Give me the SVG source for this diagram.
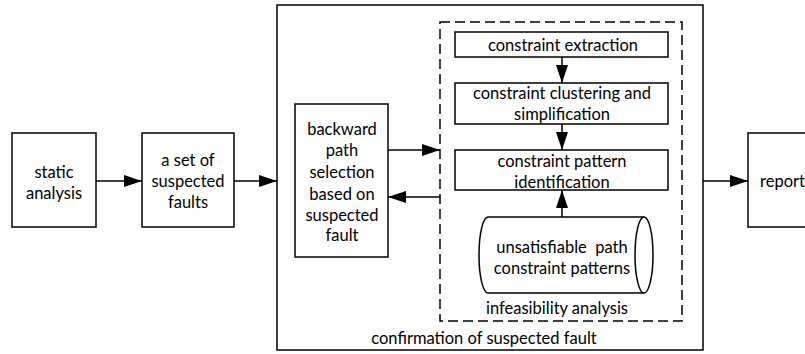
<svg xmlns="http://www.w3.org/2000/svg" width="805" height="354" viewBox="0 0 805 354">
<defs>
<style>
.box{fill:#fff;stroke:#000;stroke-width:1.5}
.dash{fill:none;stroke:#000;stroke-width:1.5;stroke-dasharray:10 5}
.t{font-family:Lato,"Liberation Sans",sans-serif;font-size:16.5px;fill:#000;text-anchor:middle}
.ln{stroke:#000;stroke-width:1.5;fill:none;marker-end:url(#ah)}
</style>
<marker id="ah" markerUnits="userSpaceOnUse" markerWidth="19" markerHeight="12" refX="18" refY="6" orient="auto">
<path d="M0,0 L18,6 L0,12 z" fill="#000"/>
</marker>
</defs>
<rect width="805" height="354" fill="#fff"/>
<g id="confirmation">
<rect class="box" x="277" y="5" width="426" height="345"/>
<text class="t" x="484" y="344">confirmation of suspected fault</text>
</g>
<g id="infeasibility">
<rect class="dash" x="440" y="22" width="242" height="299"/>
<text class="t" x="557" y="314">infeasibility analysis</text>
</g>
<g id="static">
<rect class="box" x="12" y="133" width="84" height="94"/>
<text class="t" x="54" y="178">static</text>
<text class="t" x="54" y="199">analysis</text>
</g>
<g id="suspected">
<rect class="box" x="142" y="133" width="92" height="94"/>
<text class="t" x="188" y="166">a set of</text>
<text class="t" x="188" y="187">suspected</text>
<text class="t" x="188" y="208">faults</text>
</g>
<g id="backward">
<rect class="box" x="295" y="104" width="93" height="153"/>
<text class="t" x="342" y="135">backward</text>
<text class="t" x="342" y="156">path</text>
<text class="t" x="342" y="178">selection</text>
<text class="t" x="342" y="200">based on</text>
<text class="t" x="342" y="221">suspected</text>
<text class="t" x="342" y="241">fault</text>
</g>
<g id="extraction">
<rect class="box" x="455" y="32" width="213" height="25"/>
<text class="t" x="563" y="51">constraint extraction</text>
</g>
<g id="clustering">
<rect class="box" x="455" y="83" width="213" height="41"/>
<text class="t" x="562" y="99">constraint clustering and</text>
<text class="t" x="562" y="120">simplification</text>
</g>
<g id="pattern">
<rect class="box" x="455" y="150" width="213" height="40"/>
<text class="t" x="562" y="167">constraint pattern</text>
<text class="t" x="562" y="188">identification</text>
</g>
<g id="patterns">
<path class="box" d="M644,217 L488,217 A9 38 0 0 0 488,293 L644,293"/>
<ellipse class="box" cx="644" cy="255" rx="9" ry="38"/>
<text class="t" x="562" y="253" xml:space="preserve">unsatisfiable  path</text>
<text class="t" x="562" y="274">constraint patterns</text>
</g>
<g id="report">
<rect class="box" x="748" y="133" width="100" height="94"/>
<text class="t" x="760" y="187" style="text-anchor:start">report</text>
</g>
<g id="connectors">
<line class="ln" x1="96" y1="181" x2="142" y2="181"/>
<line class="ln" x1="234" y1="181" x2="277" y2="181"/>
<line class="ln" x1="388" y1="150" x2="440" y2="150"/>
<line class="ln" x1="440" y1="197" x2="388" y2="197"/>
<line class="ln" x1="562" y1="57" x2="562" y2="83"/>
<line class="ln" x1="562" y1="124" x2="562" y2="150"/>
<line class="ln" x1="562" y1="217" x2="562" y2="190"/>
<line class="ln" x1="703" y1="181" x2="748" y2="181"/>
</g>
</svg>
